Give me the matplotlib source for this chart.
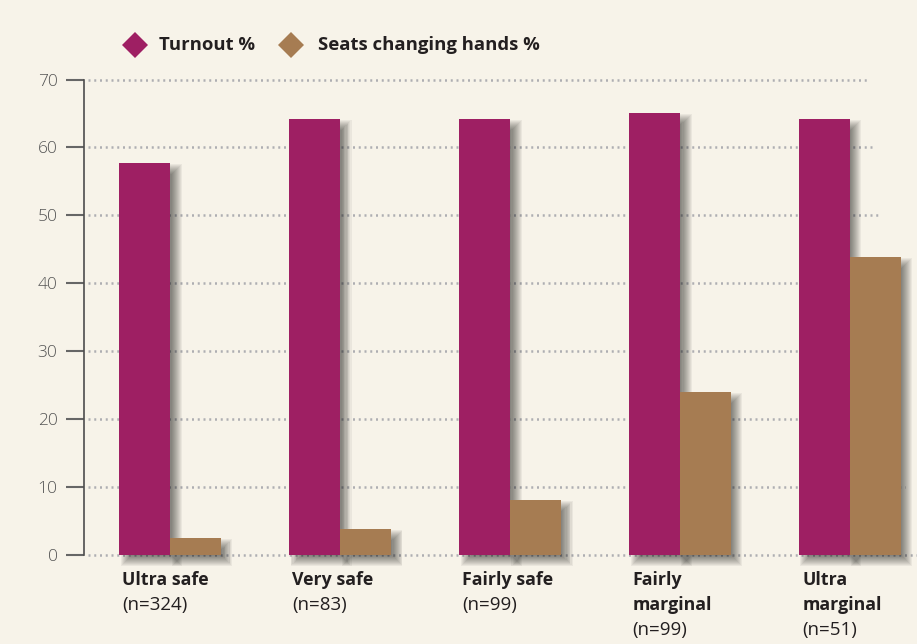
import matplotlib
matplotlib.use("Agg")
import matplotlib.pyplot as plt
from matplotlib.lines import Line2D
from matplotlib.patches import Rectangle
import numpy as np

categories = [["Ultra safe"], ["Very safe"], ["Fairly safe"], ["Fairly", "marginal"], ["Ultra", "marginal"]]
counts = ["(n=324)", "(n=83)", "(n=99)", "(n=99)", "(n=51)"]
turnout = [57.7, 64.2, 64.2, 65.1, 64.2]
seats = [2.5, 3.8, 8.1, 24.0, 43.9]
series_names = ["Turnout %", "Seats changing hands %"]
yticks = [0, 10, 20, 30, 40, 50, 60, 70]

BG = "#F7F3E9"
C_TURN = "#9E1F63"
C_SEAT = "#A67C52"
TXT = "#231F20"

plt.rcParams['font.family'] = ['Open Sans', 'DejaVu Sans']

W, H = 917, 644
fig = plt.figure(figsize=(W / 100, H / 100), dpi=100, facecolor=BG)
ax_left, ax_right = 84, 917
ax_top, ax_bot = 79.5, 555
ax = fig.add_axes([ax_left / W, (H - ax_bot) / H, (ax_right - ax_left) / W, (ax_bot - ax_top) / H])
ax.set_facecolor(BG)

px_per_unit = 170.0
py_per_unit = (ax_bot - ax_top) / 70.0
x0 = -(170 - ax_left) / px_per_unit
x1 = x0 + (ax_right - ax_left) / px_per_unit
ax.set_xlim(x0, x1)
ax.set_ylim(0, 70)

def px2x(p):
    return x0 + (p - ax_left) / px_per_unit

# grid lines (dotted, staggered ends)
grid_ends = [917, 905, 895, 890, 885, 880, 875, 870]
for yv, e in zip(yticks, grid_ends):
    ax.plot([px2x(88), px2x(e)], [yv, yv], linestyle=(0, (0.8, 1.5)), color="#AEAEB2",
            linewidth=1.8, zorder=1, clip_on=False)

xs = np.arange(len(turnout))
bw = 0.3
b1 = ax.bar(xs - bw / 2, turnout, width=bw, color=C_TURN, zorder=3, linewidth=0)
b2 = ax.bar(xs + bw / 2, seats, width=bw, color=C_SEAT, zorder=4, linewidth=0)

# soft drop shadows built from each bar's own geometry
dx_px, dy_px, r_px = 6.5, 6.0, 5
layers = list(range(-r_px, r_px + 1))
a = 0.05
for p in list(b1) + list(b2):
    p.set_clip_on(False)
    bx, by = p.get_x(), p.get_y()
    bwid, bh = p.get_width(), p.get_height()
    for d in layers:
        ex = d / px_per_unit
        ey = d / py_per_unit
        ax.add_patch(Rectangle((bx + dx_px / px_per_unit - ex, by - dy_px / py_per_unit - ey),
                               bwid + 2 * ex, bh + 2 * ey, facecolor="black", alpha=a,
                               linewidth=0, zorder=2, clip_on=False))

for s in ["top", "right", "bottom"]:
    ax.spines[s].set_visible(False)
ax.spines["left"].set_color("#4D4D4D")
ax.spines["left"].set_linewidth(1.2)
ax.set_xticks([])
ax.set_yticks(yticks)
ax.tick_params(axis='y', direction='out', length=13, width=1.5, color="#666666",
               pad=6, labelsize=12.5, labelcolor="#555555")
for lab in ax.get_yticklabels():
    lab.set_fontweight('light')

# category labels
lh = 25 / py_per_unit
for i, (cat, n) in enumerate(zip(categories, counts)):
    xl = i - bw + 0.02
    ytop = -2.3
    for j, line in enumerate(cat):
        ax.text(xl, ytop - j * lh, line, ha='left', va='top', fontsize=12.8,
                fontweight='bold', color=TXT, clip_on=False)
    ax.text(xl, ytop - len(cat) * lh, n, ha='left', va='top', fontsize=13.5,
            color=TXT, clip_on=False)

# legend
ly = (H - 45) / H
for mx, tx, c, name in [(135, 159, C_TURN, series_names[0]), (291, 318, C_SEAT, series_names[1])]:
    fig.add_artist(Line2D([mx / W], [ly], marker='D', markersize=13, color=c, linestyle='none',
                          markeredgewidth=0, transform=fig.transFigure))
    fig.text(tx / W, ly, name, ha='left', va='center', fontsize=13.3, fontweight='bold', color=TXT)

fig.savefig("out.png", dpi=100, facecolor=BG)
